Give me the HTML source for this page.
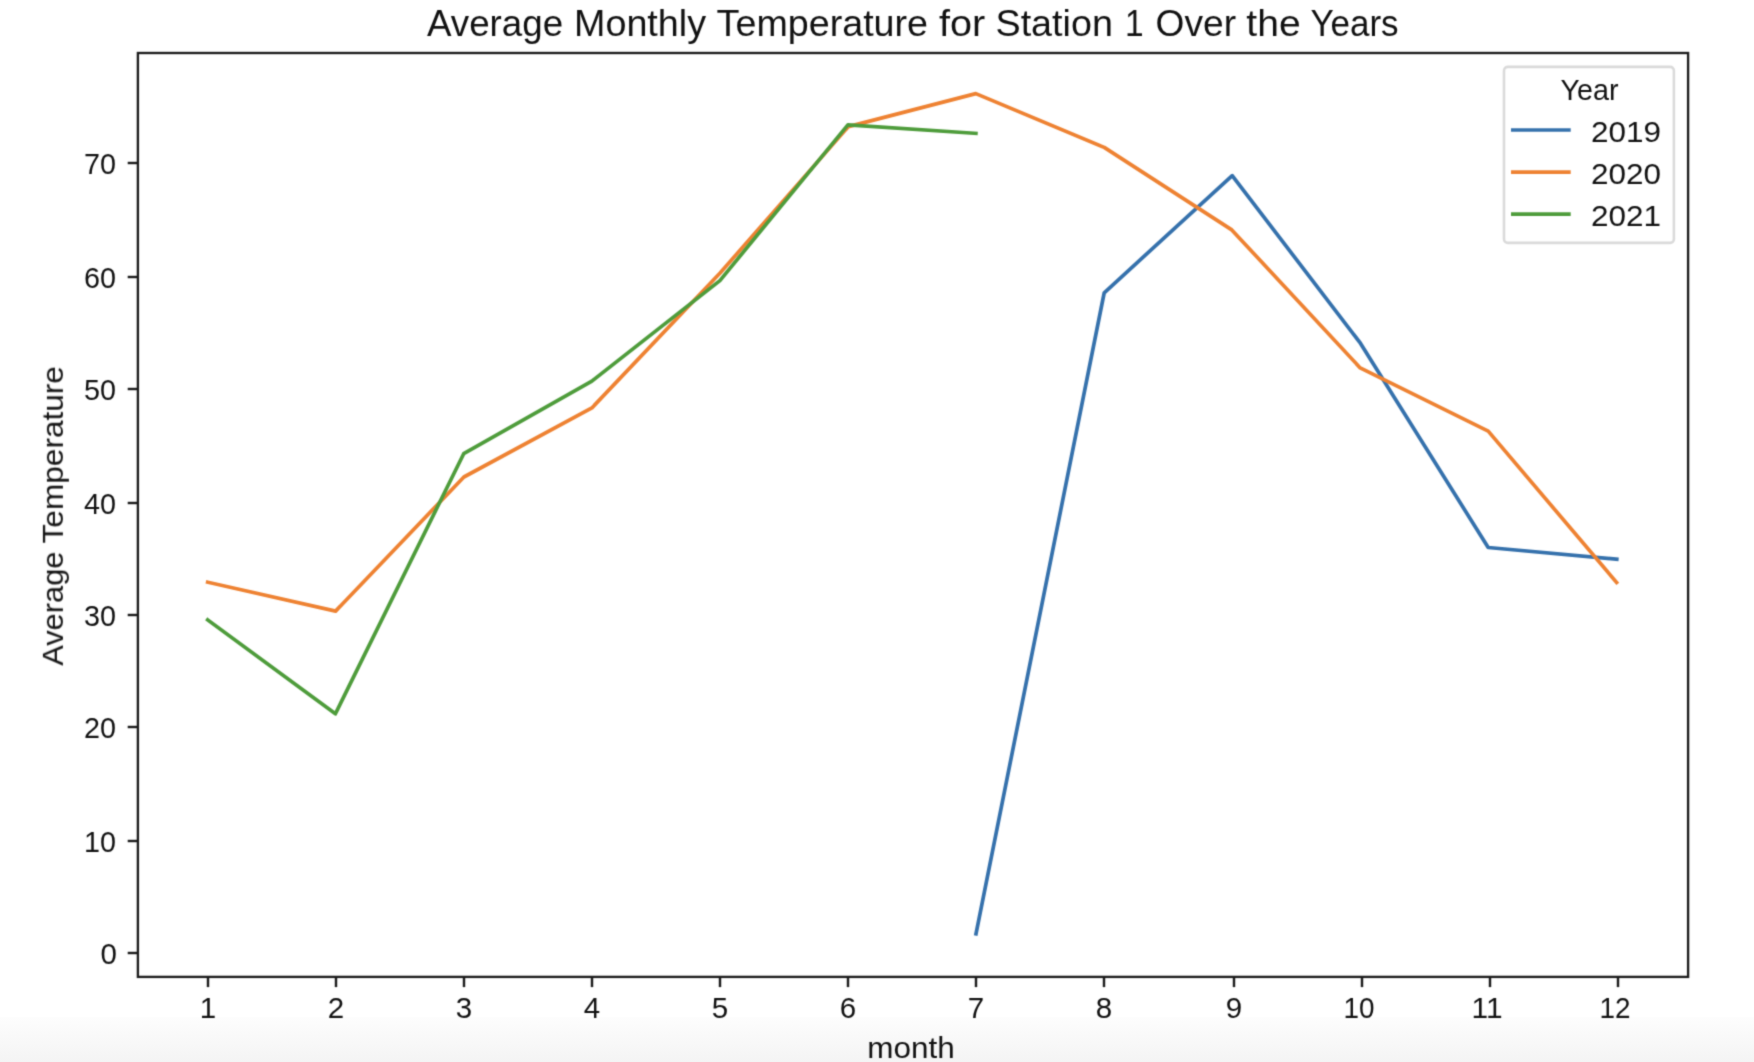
<!DOCTYPE html>
<html>
<head>
<meta charset="utf-8">
<title>Average Monthly Temperature for Station 1 Over the Years</title>
<style>
html,body{margin:0;padding:0;background:#ffffff;}
body{width:1754px;height:1062px;overflow:hidden;position:relative;font-family:"Liberation Sans",sans-serif;}
.shade{position:absolute;left:0;top:1017px;width:1754px;height:45px;background:linear-gradient(#fdfdfd,#f4f4f4);}
svg{position:absolute;left:0;top:0;}
svg text{font-family:"Liberation Sans",sans-serif;fill:#111111;}
</style>
</head>
<body>
<div class="shade"></div>
<svg width="1754" height="1062" viewBox="0 0 1754 1062">
<defs><filter id="soft" x="0" y="0" width="1754" height="1062" filterUnits="userSpaceOnUse" color-interpolation-filters="sRGB"><feConvolveMatrix order="3" kernelMatrix="0.02768 0.11101 0.02768 0.11101 0.44521 0.11101 0.02768 0.11101 0.02768" edgeMode="duplicate"/></filter></defs>
<g filter="url(#soft)">
<g font-size="36">
<text x="426.93" y="35.5" textLength="136.21" lengthAdjust="spacingAndGlyphs">Average</text>
<text x="574.02" y="35.5" textLength="132.04" lengthAdjust="spacingAndGlyphs">Monthly</text>
<text x="716.60" y="35.5" textLength="211.47" lengthAdjust="spacingAndGlyphs">Temperature</text>
<text x="938.94" y="35.5" textLength="46.17" lengthAdjust="spacingAndGlyphs">for</text>
<text x="995.51" y="35.5" textLength="117.35" lengthAdjust="spacingAndGlyphs">Station</text>
<text x="1124.91" y="35.5" textLength="18.62" lengthAdjust="spacingAndGlyphs">1</text>
<text x="1155.64" y="35.5" textLength="80.48" lengthAdjust="spacingAndGlyphs">Over</text>
<text x="1246.38" y="35.5" textLength="54.23" lengthAdjust="spacingAndGlyphs">the</text>
<text x="1310.38" y="35.5" textLength="88.19" lengthAdjust="spacingAndGlyphs">Years</text>
</g>
<g fill="none" stroke-width="3.7" stroke-linejoin="round" stroke-linecap="square">
<polyline stroke="#3571ac" points="976.0,933.8 1104.2,292.8 1232.2,175.6 1360.4,343.2 1488.2,547.5 1616.8,559.2"/>
<polyline stroke="#ee8232" points="207.7,582.2 335.6,611.1 463.9,477.0 591.9,407.9 720.1,273.0 848.4,126.6 975.8,93.6 1104.2,147.4 1231.8,229.9 1360.2,367.9 1488.2,431.1 1616.6,582.5"/>
<polyline stroke="#4e9c3b" points="207.7,619.9 335.4,713.8 463.7,453.7 591.9,381.1 719.9,280.6 847.9,124.8 975.9,133.4"/>
</g>
<rect x="137.9" y="53.0" width="1550.2" height="923.9" fill="none" stroke="#1c1c1c" stroke-width="2.35"/>
<g stroke="#1c1c1c" stroke-width="2.45">
<line x1="127.7" y1="953" x2="137.9" y2="953"/>
<line x1="127.7" y1="841" x2="137.9" y2="841"/>
<line x1="127.7" y1="727" x2="137.9" y2="727"/>
<line x1="127.7" y1="615" x2="137.9" y2="615"/>
<line x1="127.7" y1="503" x2="137.9" y2="503"/>
<line x1="127.7" y1="389" x2="137.9" y2="389"/>
<line x1="127.7" y1="277" x2="137.9" y2="277"/>
<line x1="127.7" y1="163" x2="137.9" y2="163"/>
<line x1="208" y1="976.9" x2="208" y2="987.1"/>
<line x1="336" y1="976.9" x2="336" y2="987.1"/>
<line x1="464" y1="976.9" x2="464" y2="987.1"/>
<line x1="592" y1="976.9" x2="592" y2="987.1"/>
<line x1="720" y1="976.9" x2="720" y2="987.1"/>
<line x1="848" y1="976.9" x2="848" y2="987.1"/>
<line x1="976" y1="976.9" x2="976" y2="987.1"/>
<line x1="1104" y1="976.9" x2="1104" y2="987.1"/>
<line x1="1234" y1="976.9" x2="1234" y2="987.1"/>
<line x1="1362" y1="976.9" x2="1362" y2="987.1"/>
<line x1="1490" y1="976.9" x2="1490" y2="987.1"/>
<line x1="1618" y1="976.9" x2="1618" y2="987.1"/>
</g>
<g font-size="29.5" text-anchor="end">
<text x="117" y="963.8">0</text>
<text x="116" y="851.8" textLength="32" lengthAdjust="spacingAndGlyphs">10</text>
<text x="116" y="737.8" textLength="32" lengthAdjust="spacingAndGlyphs">20</text>
<text x="116" y="625.8" textLength="32" lengthAdjust="spacingAndGlyphs">30</text>
<text x="116" y="513.8" textLength="32" lengthAdjust="spacingAndGlyphs">40</text>
<text x="116" y="399.8" textLength="32" lengthAdjust="spacingAndGlyphs">50</text>
<text x="116" y="287.8" textLength="32" lengthAdjust="spacingAndGlyphs">60</text>
<text x="116" y="173.8" textLength="32" lengthAdjust="spacingAndGlyphs">70</text>
</g>
<g font-size="29.5" text-anchor="middle">
<text x="208" y="1018">1</text>
<text x="336" y="1018">2</text>
<text x="464" y="1018">3</text>
<text x="592" y="1018">4</text>
<text x="720" y="1018">5</text>
<text x="848" y="1018">6</text>
<text x="976" y="1018">7</text>
<text x="1104" y="1018">8</text>
<text x="1234" y="1018">9</text>
<text x="1359.1" y="1018" textLength="31" lengthAdjust="spacingAndGlyphs">10</text>
<text x="1487.1" y="1018" textLength="31" lengthAdjust="spacingAndGlyphs">11</text>
<text x="1615.1" y="1018" textLength="31" lengthAdjust="spacingAndGlyphs">12</text>
</g>
<text x="911" y="1057.8" font-size="29.5" text-anchor="middle" textLength="87.5" lengthAdjust="spacingAndGlyphs">month</text>
<g transform="translate(62.9,665.7) rotate(-90)" font-size="29.5">
<text x="-0.06" y="0" textLength="114.22" lengthAdjust="spacingAndGlyphs">Average</text>
<text x="122.34" y="0" textLength="177.32" lengthAdjust="spacingAndGlyphs">Temperature</text>
</g>
<rect x="1504.0" y="66.9" width="169.9" height="176" rx="3.8" ry="3.8" fill="#ffffff" fill-opacity="0.8" stroke="#dadada" stroke-width="2.6"/>
<text x="1589.5" y="99.8" font-size="29.5" text-anchor="middle" textLength="58" lengthAdjust="spacingAndGlyphs">Year</text>
<g stroke-width="3.7" stroke-linecap="butt">
<line x1="1511" y1="130.0" x2="1570.7" y2="130.0" stroke="#3571ac"/>
<line x1="1511" y1="172.1" x2="1570.7" y2="172.1" stroke="#ee8232"/>
<line x1="1511" y1="214.1" x2="1570.7" y2="214.1" stroke="#4e9c3b"/>
</g>
<g font-size="29.5">
<text x="1591" y="141.8" textLength="70" lengthAdjust="spacingAndGlyphs">2019</text>
<text x="1591" y="183.8" textLength="70" lengthAdjust="spacingAndGlyphs">2020</text>
<text x="1591" y="225.9" textLength="70" lengthAdjust="spacingAndGlyphs">2021</text>
</g>
</g>
</svg>
</body>
</html>
